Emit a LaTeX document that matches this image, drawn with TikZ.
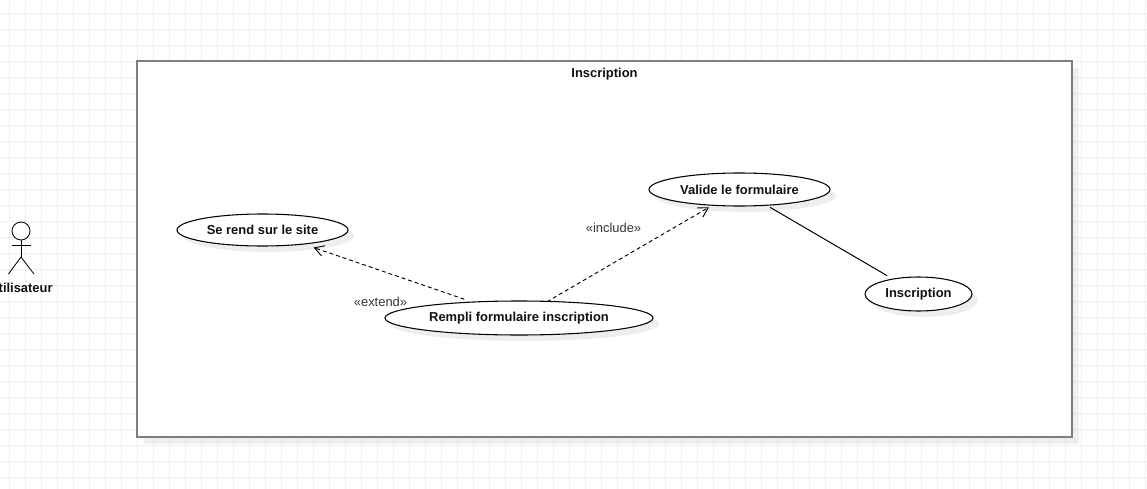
\documentclass[tikz,border=0pt]{standalone}
\usepackage{fontspec}
\setmainfont{Liberation Sans}
\usetikzlibrary{arrows.meta,shapes.geometric}
\definecolor{gridc}{HTML}{F0F0F0}
\definecolor{sysc}{HTML}{7F7F7F}
\definecolor{shad}{HTML}{D0D0D0}
\definecolor{txt}{HTML}{111111}
\definecolor{lab}{HTML}{333333}
\newcommand{\fs}{\fontsize{9.7pt}{11pt}\selectfont}
\newcommand{\fl}{\fontsize{9.7pt}{11pt}\selectfont}
\tikzset{
  x=0.75pt,y=-0.75pt,
  gridline/.style={draw=gridc,line width=0.75pt},
  usecase/.style={ellipse,draw=black,fill=white,line width=0.8pt,inner sep=0pt,outer sep=0pt,font=\fs\bfseries,text=txt},
  caseshadow/.style={ellipse,fill=shad,opacity=0.35,inner sep=0pt,outer sep=0pt},
  flow/.style={dashed,dash pattern=on 3pt off 2.2pt,line width=0.7pt,-{Straight Barb[length=7pt,width=8pt,line width=0.7pt]}},
  assoc/.style={line width=0.75pt},
  stereo/.style={font=\fl,text=lab,inner sep=0pt},
  actorline/.style={line width=0.6pt},
  bold label/.style={font=\fs\bfseries,text=txt,inner sep=0pt}
}
\begin{document}
\begin{tikzpicture}
\useasboundingbox (0,0) rectangle (1147,489);
\clip (0,0) rectangle (1147,489);
% grid
\foreach \gx in {0,...,71} \draw[gridline] ({9.5+16*\gx},0) -- ({9.5+16*\gx},489);
\foreach \gy in {0,...,29} \draw[gridline] (0,{13.5+16*\gy}) -- (1147,{13.5+16*\gy});
% system boundary
\fill[shad,opacity=0.35] (144,68) rectangle (1079,444);
\node[draw=sysc,fill=white,line width=1.5pt,minimum width=935*0.75pt,minimum height=376*0.75pt,inner sep=0pt,outer sep=0pt] (sys) at (604.5,249) {};
\node[bold label] (title) at (604.5,74.5) {Inscription};
% shadows
\node[caseshadow,minimum width=171*0.75pt,minimum height=32*0.75pt] (s1) at (268.5,236) {};
\node[caseshadow,minimum width=181*0.75pt,minimum height=33*0.75pt] (s2) at (745.5,195.5) {};
\node[caseshadow,minimum width=268*0.75pt,minimum height=34*0.75pt] (s3) at (525,324) {};
\node[caseshadow,minimum width=107*0.75pt,minimum height=34*0.75pt] (s4) at (924.5,300) {};
% use cases
\node[usecase,minimum width=171*0.75pt,minimum height=32*0.75pt] (serend) at (262.5,230) {Se rend sur le site};
\node[usecase,minimum width=181*0.75pt,minimum height=33*0.75pt] (valide) at (739.5,189.5) {Valide le formulaire};
\node[usecase,minimum width=268*0.75pt,minimum height=34*0.75pt] (rempli) at (519,318) {Rempli formulaire inscription};
\node[usecase,minimum width=107*0.75pt,minimum height=34*0.75pt] (insc) at (918.5,294) {Inscription};
% connectors
\draw[flow,shorten <=6.5pt,shorten >=8pt] (rempli) -- (serend);
\draw[flow,shorten <=-0.5pt,shorten >=3pt] (rempli) -- (valide);
\draw[assoc,shorten <=3pt,shorten >=5pt] (valide) -- (insc);
\node[stereo] (ext) at (380.5,302) {«extend»};
\node[stereo] (inc) at (613.5,228) {«include»};
% actor
\node[draw=black,actorline,circle,minimum size=18*0.75pt,inner sep=0pt,outer sep=0pt] (head) at (21,231) {};
\coordinate (arml) at (12,245);
\coordinate (armr) at (31,245);
\coordinate (hip) at (21,257);
\coordinate (legl) at (8.5,274);
\coordinate (legr) at (34,274);
\draw[actorline] (head.south) -- (hip);
\draw[actorline] (arml) -- (armr);
\draw[actorline] (legl) -- (hip) -- (legr);
\node[bold label] (actor) at (21,288) {Utilisateur};
\end{tikzpicture}
\end{document}
